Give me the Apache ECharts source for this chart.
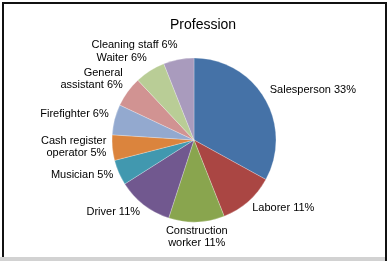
<!DOCTYPE html>
<html>
<head>
<meta charset="utf-8">
<script src="https://cdn.jsdelivr.net/npm/echarts@6/dist/echarts.min.js"></script>
<style>
  html, body { margin: 0; padding: 0; background: #fff; }
  #chart { width: 389px; height: 261px; }
</style>
</head>
<body>
<div id="chart"></div>
<script>
// professions, clockwise from 12 o'clock
var professions = [
  "Salesperson", "Laborer", "Construction\nworker", "Driver", "Musician",
  "Cash register\noperator", "Firefighter", "General\nassistant", "Waiter", "Cleaning staff"
];
var shares = [33, 11, 11, 11, 5, 5, 6, 6, 6, 6];
var sliceColors = [
  "#4572A7", "#AA4643", "#89A54E", "#71588F", "#4198AF",
  "#DB843D", "#93A9CF", "#D19392", "#B9CD96", "#A99BBD"
];

var chart = echarts.init(document.getElementById("chart"), null, { renderer: "canvas" });

var cx = 194, cy = 140, radius = 82;
var total = shares.reduce(function (a, b) { return a + b; }, 0);

// mid angle of each slice (unit vector on screen)
var dirs = [];
var acc = 0;
shares.forEach(function (v) {
  var a = (90 - (acc + v / 2) / total * 360) * Math.PI / 180;
  dirs.push([Math.cos(a), -Math.sin(a)]);
  acc += v;
});

var option = {
  animation: false,
  backgroundColor: "#fff",
  title: {
    text: "Profession",
    left: 170,
    top: 18,
    padding: 0,
    textStyle: {
      fontFamily: "Liberation Sans",
      fontSize: 14,
      fontWeight: "normal",
      color: "#000"
    }
  },
  graphic: [
    { type: "rect", shape: { x: 0, y: 257, width: 386, height: 4 }, style: { fill: "#d2d2d2" } },
    { type: "polyline", shape: { points: [[3, 257], [3, 3], [386, 3], [386, 261]] },
      style: { stroke: "#111", lineWidth: 2, fill: null } }
  ],
  series: [
    {
      type: "pie",
      center: [cx, cy],
      radius: radius,
      startAngle: 90,
      clockwise: true,
      avoidLabelOverlap: false,
      itemStyle: { borderColor: "rgba(255,255,255,0.5)", borderWidth: 0.5 },
      label: {
        show: true,
        position: "outside",
        formatter: function (p) { return p.name + " " + p.value + "%"; },
        fontFamily: "Liberation Sans",
        fontSize: 11,
        lineHeight: 12,
        color: "#000"
      },
      labelLine: { show: false },
      emphasis: { disabled: true },
      labelLayout: function (p) {
        var d = dirs[p.dataIndex];
        var r = radius + 6;
        var ax = cx + d[0] * r;
        var ay = cy + d[1] * r;
        var h = p.labelRect.height;
        var align = d[0] > 0.1 ? "left" : (d[0] < -0.1 ? "right" : "center");
        return {
          x: ax,
          y: ay + d[1] * h / 2 - 2.5,
          align: align,
          verticalAlign: "middle"
        };
      },
      data: professions.map(function (n, i) {
        return { name: n, value: shares[i], itemStyle: { color: sliceColors[i] } };
      })
    }
  ]
};

chart.setOption(option);
</script>
</body>
</html>
